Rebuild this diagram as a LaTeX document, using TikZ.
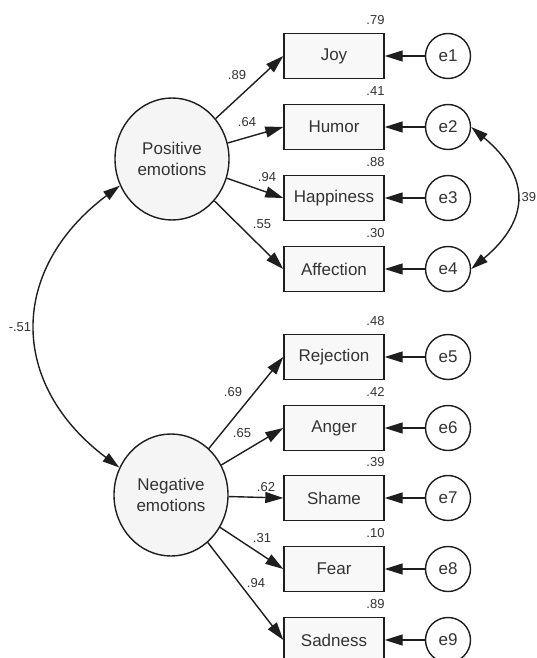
\documentclass[tikz,border=0pt]{standalone}
\usepackage{fontspec}
\setmainfont{Liberation Sans}
\usepackage{tikz}
\usetikzlibrary{arrows.meta,shapes.geometric,positioning}
\definecolor{ink}{HTML}{1E1E1E}
\definecolor{txt}{HTML}{333333}
\definecolor{boxfill}{HTML}{F8F8F8}
\definecolor{circfill}{HTML}{F5F5F5}
\tikzset{
  latent/.style={ellipse, draw=ink, fill=circfill, line width=1.4pt, minimum width=114pt, minimum height=122pt, inner sep=0pt, align=center, text=txt, font=\fontsize{17}{20.5}\selectfont},
  obs/.style={rectangle, draw=ink, fill=boxfill, line width=1.4pt, minimum width=100pt, minimum height=45pt, text=txt, font=\fontsize{17}{20}\selectfont},
  err/.style={circle, draw=ink, fill=white, line width=1.4pt, minimum size=45pt, inner sep=0pt, text=txt, font=\fontsize{17}{20}\selectfont},
  coef/.style={text=txt, inner sep=0pt, font=\fontsize{13}{15}\selectfont},
  load/.style={draw=ink, line width=1.4pt, -{Triangle[length=18pt,width=11pt]}},
  cov/.style={draw=ink, line width=1.4pt, {Triangle[length=17pt,width=10pt]}-{Triangle[length=17pt,width=10pt]}},
}

\begin{document}
\begin{tikzpicture}[x=1pt,y=1pt]
  \useasboundingbox (0,0) rectangle (536,-658);
  \node[latent] (pos) at (172,-159) {Positive\\emotions};
  \node[latent] (neg) at (171,-495) {Negative\\emotions};
  % positive indicators
  \node[obs] (joy) at (334,-56) {Joy};
  \node[obs] (humor) at (334,-127) {Humor};
  \node[obs] (happy) at (334,-198) {Happiness};
  \node[obs] (affect) at (334,-269) {Affection};
  % negative indicators
  \node[obs] (reject) at (334,-357) {Rejection};
  \node[obs] (anger) at (334,-428) {Anger};
  \node[obs] (shame) at (334,-498) {Shame};
  \node[obs] (fear) at (334,-569) {Fear};
  \node[obs] (sad) at (334,-640) {Sadness};
  % error terms
  \node[err] (e1) at (448,-56) {e1};
  \node[err] (e2) at (448,-127) {e2};
  \node[err] (e3) at (448,-198) {e3};
  \node[err] (e4) at (448,-269) {e4};
  \node[err] (e5) at (448,-357) {e5};
  \node[err] (e6) at (448,-428) {e6};
  \node[err] (e7) at (448,-498) {e7};
  \node[err] (e8) at (448,-569) {e8};
  \node[err] (e9) at (448,-640) {e9};
  % squared multiple correlations
  \node[coef, above left=8pt and 0pt of joy.north east] (r1) {.79};
  \node[coef, above left=8pt and 0pt of humor.north east] (r2) {.41};
  \node[coef, above left=8pt and 0pt of happy.north east] (r3) {.88};
  \node[coef, above left=8pt and 0pt of affect.north east] (r4) {.30};
  \node[coef, above left=8pt and 0pt of reject.north east] (r5) {.48};
  \node[coef, above left=8pt and 0pt of anger.north east] (r6) {.42};
  \node[coef, above left=8pt and 0pt of shame.north east] (r7) {.39};
  \node[coef, above left=8pt and 0pt of fear.north east] (r8) {.10};
  \node[coef, above left=8pt and 0pt of sad.north east] (r9) {.89};
  % loadings
  \draw[load] (pos) -- (joy.west);
  \draw[load] (pos) -- (humor.west);
  \draw[load] (pos) -- (happy.west);
  \draw[load] (pos) -- (affect.west);
  \draw[load] (neg) -- (reject.west);
  \draw[load] (neg) -- (anger.west);
  \draw[load] (neg) -- (shame.west);
  \draw[load] (neg) -- (fear.west);
  \draw[load] (neg) -- (sad.west);
  \node[coef] (l1) at (237,-75) {.89};
  \node[coef] (l2) at (247,-122) {.64};
  \node[coef] (l3) at (267,-177) {.94};
  \node[coef] (l4) at (262,-224) {.55};
  \node[coef] (l5) at (233,-392) {.69};
  \node[coef] (l6) at (242,-433) {.65};
  \node[coef] (l7) at (266,-487) {.62};
  \node[coef] (l8) at (262,-538) {.31};
  \node[coef] (l9) at (256,-583) {.94};
  % residual paths
  \draw[load] (e1) -- (joy);
  \draw[load] (e2) -- (humor);
  \draw[load] (e3) -- (happy);
  \draw[load] (e4) -- (affect);
  \draw[load] (e5) -- (reject);
  \draw[load] (e6) -- (anger);
  \draw[load] (e7) -- (shame);
  \draw[load] (e8) -- (fear);
  \draw[load] (e9) -- (sad);
  % covariances
  \draw[cov] (pos.207) to[out=217,in=143,looseness=1.26] (neg.152);
  \node[coef] (c1) at (20,-327) {-.51};
  \draw[cov] (e2.east) to[out=-40,in=40,looseness=1.4] (e4.east);
  \node[coef] (c2) at (527,-197) {.39};
\end{tikzpicture}
\end{document}
